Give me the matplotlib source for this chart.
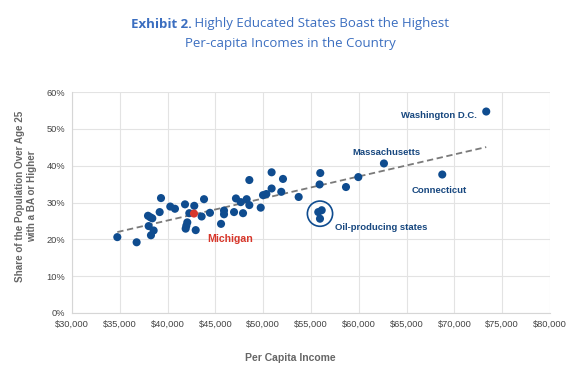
import numpy as np
import matplotlib
matplotlib.use("Agg")
import matplotlib.pyplot as plt
from matplotlib.ticker import FuncFormatter

# ---- data ----
income = [34740, 36760, 37950, 38190, 38400, 38020, 38540, 38260, 39170, 39310,
          40280, 40770, 41820, 42270, 42790, 43810, 43560, 44430, 42060, 41960,
          41890, 42940, 45590, 45900, 45900, 46950, 47150, 47650, 47890, 48270,
          48550, 48550, 49740, 49980, 50330, 50880, 50880, 51890, 52070, 53710,
          55970, 55900, 58660, 59950]
ba_share = [20.6, 19.2, 26.4, 26.0, 25.7, 23.6, 22.4, 21.1, 27.4, 31.2,
            28.9, 28.3, 29.5, 27.1, 29.1, 30.9, 26.2, 27.2, 24.6, 23.7,
            22.9, 22.5, 24.2, 27.8, 26.8, 27.4, 31.1, 30.1, 27.1, 30.9,
            29.3, 36.1, 28.6, 32.0, 32.3, 33.8, 38.2, 32.9, 36.4, 31.5,
            38.0, 34.9, 34.2, 36.9]
named_states = ["Washington D.C.", "Massachusetts", "Connecticut"]
named_income = [73330, 62630, 68730]
named_share = [54.7, 40.6, 37.6]
oil_income = [55760, 56120, 55940]
oil_share = [27.4, 27.9, 25.6]
michigan_income = [42760]
michigan_share = [27.0]

x_ticks = [30000, 35000, 40000, 45000, 50000, 55000, 60000, 65000, 70000, 75000, 80000]
y_ticks = [0, 10, 20, 30, 40, 50, 60]

title_bold = "Exhibit 2."
title_rest = " Highly Educated States Boast the Highest"
title_line2 = "Per-capita Incomes in the Country"

# ---- style ----
DOT = "#0f4c8f"
RED = "#d7372b"
LABEL = "#17477f"
TITLE = "#3b6ec0"
GRAY = "#666666"
GRID = "#e3e3e3"

plt.rcParams['font.family'] = ['Liberation Sans', 'DejaVu Sans']

fig = plt.figure(figsize=(5.8, 3.73), dpi=100)
ax = fig.add_axes([72/580, 60/373, 478/580, 221/373])

all_x = np.array(income + named_income + oil_income + michigan_income, dtype=float)
all_y = np.array(ba_share + named_share + oil_share + michigan_share, dtype=float)

# trend line
coef = np.polyfit(all_x, all_y, 1)
tx = np.array([all_x.min(), all_x.max()])
ax.plot(tx, np.polyval(coef, tx), color="#7a7a7a", lw=1.3, ls=(0, (3.5, 2)), zorder=2)

ax.scatter(income + named_income + oil_income, ba_share + named_share + oil_share,
           s=34, color=DOT, edgecolors='none', zorder=3)
ax.scatter(michigan_income, michigan_share, s=34, color=RED, edgecolors='none', zorder=4)

# circle around oil states
ax.scatter([np.mean(oil_income)], [np.mean(oil_share)], s=330, facecolors='none',
           edgecolors=DOT, linewidths=1.2, zorder=3)

# labels
offsets = [(-7, -3, 'right'), (2, 7.7, 'center'), (-2.4, -11.5, 'center')]
for name, xv, yv, (dx, dy, ha) in zip(named_states, named_income, named_share, offsets):
    ax.annotate(name, (xv, yv), xytext=(dx, dy), textcoords='offset points',
                ha=ha, va='center', fontsize=6.8, fontweight='bold', color=LABEL)
ax.annotate("Oil-producing states", (np.mean(oil_income), np.mean(oil_share)),
            xytext=(11, -10), textcoords='offset points', ha='left', va='center',
            fontsize=6.8, fontweight='bold', color=LABEL)
ax.annotate("Michigan", (michigan_income[0], michigan_share[0]), xytext=(26, -18.2),
            textcoords='offset points', ha='center', va='center',
            fontsize=7.6, fontweight='bold', color=RED)

ax.set_xlim(x_ticks[0], x_ticks[-1])
ax.set_ylim(y_ticks[0], y_ticks[-1])
ax.set_xticks(x_ticks)
ax.set_yticks(y_ticks)
ax.xaxis.set_major_formatter(FuncFormatter(lambda v, p: "${:,.0f}".format(v)))
ax.yaxis.set_major_formatter(FuncFormatter(lambda v, p: "{:.0f}%".format(v)))
ax.tick_params(length=0, labelsize=6.7, colors="#444444", pad=5)
ax.grid(True, color=GRID, lw=0.8, zorder=0)
ax.set_axisbelow(True)
for s in ['top', 'right']:
    ax.spines[s].set_visible(False)
for s in ['left', 'bottom']:
    ax.spines[s].set_color("#d6d6d6")
    ax.spines[s].set_linewidth(0.8)

fig.text(26/580, 1 - 196/373, "Share of the Population Over Age 25\nwith a BA or Higher",
         rotation=90, ha='center', va='center', fontsize=7.1, fontweight='bold',
         color=GRAY, linespacing=1.25)
fig.text(0.5, 1 - 358/373, "Per Capita Income", ha='center', va='center',
         fontsize=7.5, fontweight='bold', color=GRAY)

# title: mixed bold / regular first line, centered
tfont = ['Open Sans', 'DejaVu Sans']
TS = 9.5
fig.canvas.draw()
r = fig.canvas.get_renderer()
t1 = fig.text(0, 1 - 24/373, title_bold, fontsize=TS, fontweight='bold', color=TITLE,
              family=tfont, va='center', ha='left')
t2 = fig.text(0, 1 - 24/373, title_rest, fontsize=TS, color=TITLE,
              family=tfont, va='center', ha='left')
w1 = t1.get_window_extent(r).width
w2 = t2.get_window_extent(r).width
start = (580 - (w1 + w2)) / 2
t1.set_x(start / 580)
t2.set_x((start + w1) / 580)
fig.text(0.5, 1 - 44/373, title_line2, fontsize=TS, color=TITLE, family=tfont,
         ha='center', va='center')

fig.savefig("out.png", dpi=100, facecolor='white')
